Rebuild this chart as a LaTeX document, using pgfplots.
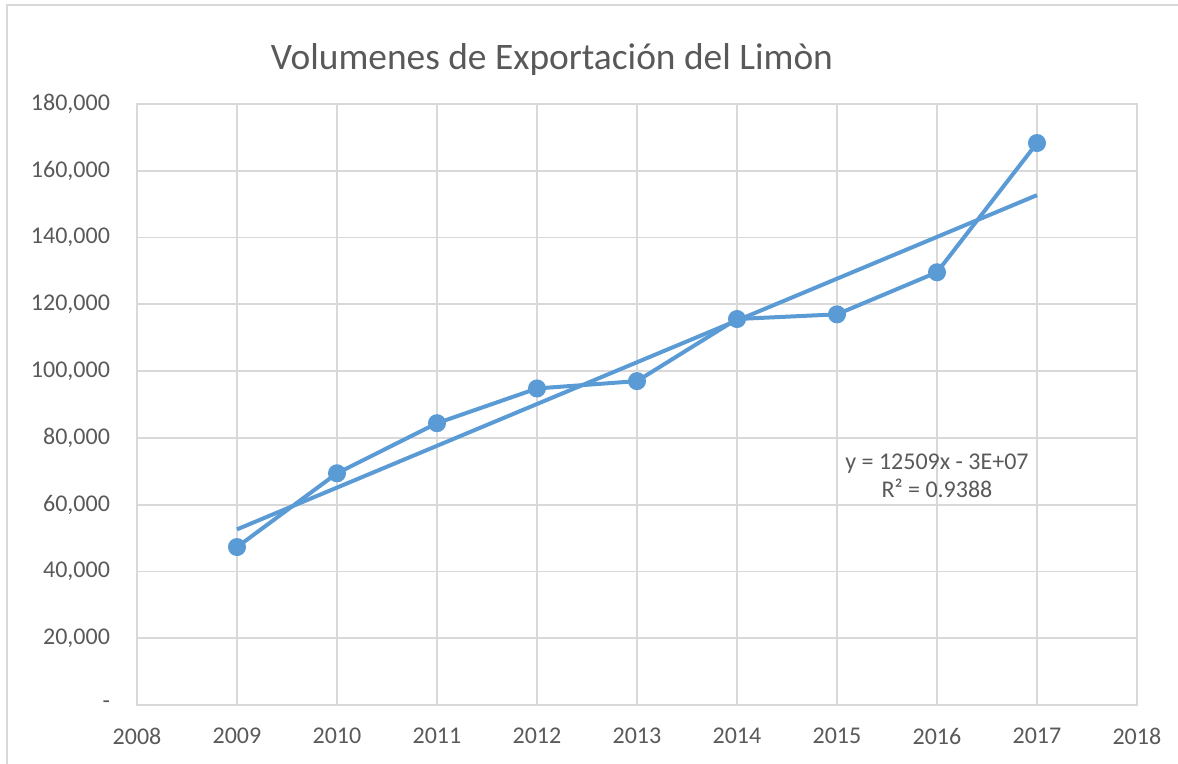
\documentclass[border=0pt]{standalone}
\usepackage{pgfplots}
\pgfplotsset{compat=1.18}
\usepackage{fontspec}
\setmainfont{Carlito}
\definecolor{serie}{HTML}{5B9BD5}
\definecolor{rejilla}{HTML}{D9D9D9}
\definecolor{texto}{HTML}{595959}

\begin{document}
\begin{tikzpicture}
% fixed page = reference size (1 px = 0.5 pt)
\path[use as bounding box] (-68.5pt,-29.5pt) rectangle (520.5pt,352.5pt);
\draw[rejilla, line width=0.8pt] (-65pt,-40pt) -- (-65pt,350pt) -- (540pt,350pt);
\begin{axis}[
  at={(0pt,0pt)}, anchor=south west,
  scale only axis, width=500pt, height=300.5pt,
  xmin=2008, xmax=2018, ymin=0, ymax=180000,
  xtick={2008,2009,...,2018},
  ytick={0,20000,...,180000},
  yticklabels={{-\hspace{1.05em}},{20,000},{40,000},{60,000},{80,000},{100,000},{120,000},{140,000},{160,000},{180,000}},
  x tick label style={/pgf/number format/1000 sep={}},
  /pgf/number format/assume math mode=true,
  scaled y ticks=false,
  tick style={draw=none},
  grid=major,
  grid style={rejilla, line width=0.9pt},
  axis line style={rejilla, line width=0.9pt},
  ticklabel style={font=\fontsize{12}{14}\selectfont, text=texto},
  yticklabel style={xshift=-10pt},
  xticklabel style={yshift=-8pt},
  clip=false,
]
% exportaciones
\addplot[serie, line width=2pt, mark=*, mark size=3.5pt, mark options={fill=serie, draw=serie}] coordinates {
(2009,47300) (2010,69400) (2011,84400) (2012,94800) (2013,97000)
(2014,115600) (2015,117000) (2016,129600) (2017,168300)
};
% tendencia lineal
\addplot[serie, line width=2pt] coordinates {
(2009,52600) (2017,152700)
};
\node[text=texto, font=\fontsize{12}{14}\selectfont, align=center] at (axis cs:2016.0,68600) {y = 12509x - 3E+07\\R² = 0.9388};
\end{axis}
\node[text=texto, font=\fontsize{18.7}{20}\selectfont] at (207.5pt,322.5pt) {Volumenes de Exportación del Limòn};
\end{tikzpicture}
\end{document}
